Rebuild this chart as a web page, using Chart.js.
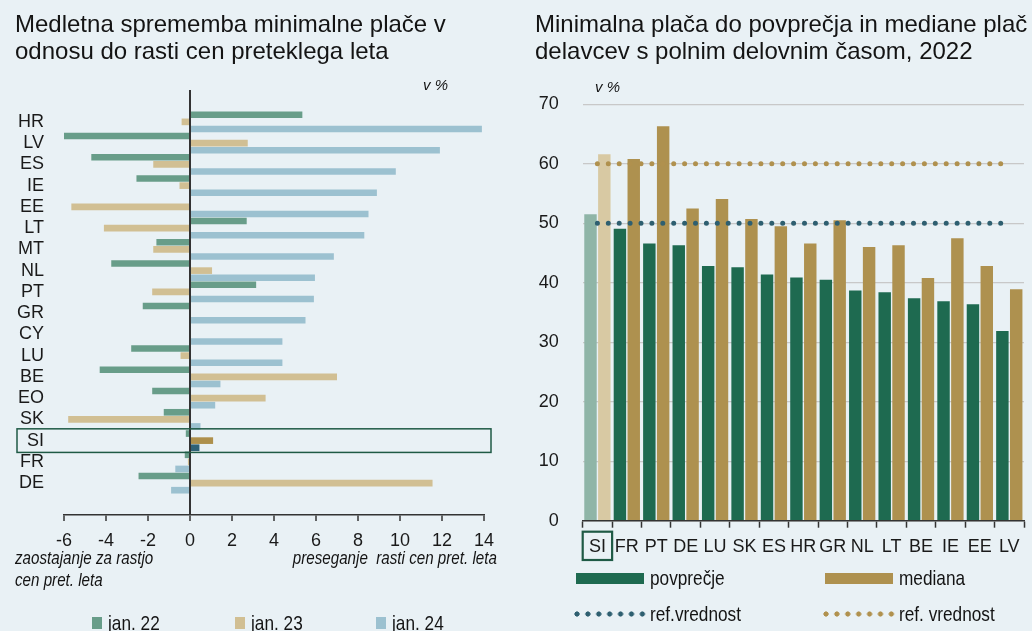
<!DOCTYPE html>
<html><head><meta charset="utf-8">
<script src="https://cdn.jsdelivr.net/npm/chart.js@4"></script>
<style>
html,body{margin:0;padding:0;background:#e9f1f5;}
body{width:1032px;height:631px;position:relative;overflow:hidden;font-family:"Liberation Sans",Arial,sans-serif;color:#141414;}
canvas{position:absolute;top:0;}
#cl{left:0;} #cr{left:516px;}
.abs{position:absolute;white-space:nowrap;}
.title{font-size:24px;line-height:26.8px;}
.narrow{font-size:21px;line-height:24px;transform:scaleX(0.82);transform-origin:0 50%;}
.ital{font-style:italic;font-size:18.5px;line-height:22px;transform:scaleX(0.82);transform-origin:0 50%;}
.itr{font-style:italic;font-size:18.5px;line-height:22px;transform:scaleX(0.82);transform-origin:100% 50%;}
.vp{font-style:italic;font-size:15px;line-height:18px;}
.sw{position:absolute;}
.dots{position:absolute;height:6px;background-size:10.9px 6px;background-repeat:repeat-x;}
</style></head>
<body>
<canvas id="cl" width="516" height="631" style="width:516px;height:631px"></canvas>
<canvas id="cr" width="516" height="631" style="width:516px;height:631px"></canvas>

<div class="abs title" style="left:15px;top:11px">Medletna sprememba minimalne plače v<br>odnosu do rasti cen preteklega leta</div>
<div class="abs title" style="left:535px;top:11px">Minimalna plača do povprečja in mediane plač<br>delavcev s polnim delovnim časom, 2022</div>
<div class="abs vp" style="left:423px;top:76px">v %</div>
<div class="abs vp" style="left:595px;top:78px">v %</div>

<div class="abs ital" style="left:15px;top:547px">zaostajanje za rastjo</div>
<div class="abs ital" style="left:15px;top:569px">cen pret. leta</div>
<div class="abs itr" style="right:535px;top:547px">preseganje&nbsp; rasti cen pret. leta</div>

<div id="legL"></div>
<div id="legR"></div>

<script>
// ---------- data: left chart ----------
const leftCategories = ['HR','LV','ES','IE','EE','LT','MT','NL','PT','GR','CY','LU','BE','EO','SK','SI','FR','DE'];
const leftSeriesNames = ['jan. 22','jan. 23','jan. 24'];
const jan22 = [5.35,-6.0,-4.7,-2.55,0,2.7,-1.6,-3.75,3.15,-2.25,0,-2.8,-4.3,-1.8,-1.25,-0.2,-0.25,-2.45];
const jan23 = [-0.4,2.75,-1.75,-0.5,-5.65,-4.1,-1.75,1.05,-1.8,0,0,-0.45,7.0,3.6,-5.8,1.1,-0.1,11.55];
const jan24 = [13.9,11.9,9.8,8.9,8.5,8.3,6.85,5.95,5.9,5.5,4.4,4.4,1.45,1.2,0.5,0.45,-0.7,-0.9];
const leftTicks = [-6,-4,-2,0,2,4,6,8,10,12,14];

// ---------- data: right chart ----------
const rightCategories = ['SI','FR','PT','DE','LU','SK','ES','HR','GR','NL','LT','BE','IE','EE','LV'];
const rightSeriesNames = ['povprečje','mediana','ref.vrednost','ref. vrednost'];
const povprecje = [51.5,49.1,46.6,46.3,42.8,42.6,41.4,40.9,40.5,38.7,38.4,37.4,36.9,36.4,31.9];
const mediana   = [61.6,60.8,66.3,52.5,54.1,50.7,49.5,46.6,50.5,46.0,46.3,40.8,47.5,42.8,38.9];
const refPovprecje = [50,50,50,50,50,50,50,50,50,50,50,50,50,50,50];
const refMediana   = [60,60,60,60,60,60,60,60,60,60,60,60,60,60,60];
const rightTicks = [0,10,20,30,40,50,60,70];

const HL = 'SI';
const F = '"Liberation Sans", Arial, sans-serif';
const COL = {
  lGreen:'#689d89', lTan:'#d1bf93', lBlue:'#9cc1d0', lTanHL:'#ae904c', lBlueHL:'#2f6176',
  rGreen:'#1e6a50', rTan:'#ae914f', rGreenHL:'#8fb5a7', rTanHL:'#d8c9a3',
  refAvg:'#2e5f70', refMed:'#b0914e', box:'#1f5a45', axis:'#333333', text:'#1a1a1a', grid:'#c8c8c8'
};

const toPts = arr => arr.map((v,i)=>({x:v,y:i}));
const byCat = (cats, base, hl) => cats.map(c => c===HL ? hl : base);

// ---------- left chart ----------
const siBoxLeft = {
  id:'siBoxLeft',
  afterDraw(chart){
    const ys = chart.scales.y, ctx = chart.ctx;
    const y = ys.getPixelForValue(leftCategories.indexOf(HL));
    ctx.save(); ctx.strokeStyle = COL.box; ctx.lineWidth = 1.5;
    ctx.strokeRect(17, y-11.8, 474, 23.6); ctx.restore();
  }
};
new Chart(document.getElementById('cl'), {
  type:'bar',
  data:{datasets:[
    {label:leftSeriesNames[0], data:toPts(jan22), backgroundColor:byCat(leftCategories, COL.lGreen, COL.lGreen)},
    {label:leftSeriesNames[1], data:toPts(jan23), backgroundColor:byCat(leftCategories, COL.lTan, COL.lTanHL)},
    {label:leftSeriesNames[2], data:toPts(jan24), backgroundColor:byCat(leftCategories, COL.lBlue, COL.lBlueHL)}
  ]},
  options:{
    indexAxis:'y', responsive:false, animation:false,
    categoryPercentage:1, barPercentage:0.94,
    layout:{padding:{top:90,right:32,left:0,bottom:0}},
    plugins:{legend:{display:false}, tooltip:{enabled:false}},
    scales:{
      x:{type:'linear', min:-6, max:14,
        afterBuildTicks:s=>{s.ticks = leftTicks.map(v=>({value:v}));},
        afterFit:s=>{s.height = 116;},
        grid:{color:c=> (c.tick && c.tick.value===0) ? COL.axis : 'rgba(0,0,0,0)', lineWidth:2,
              drawTicks:true, tickColor:COL.axis, tickLength:6, tickWidth:1.5},
        border:{display:true, color:COL.axis, width:1.5},
        ticks:{font:{size:18,family:F}, color:COL.text, padding:9, maxRotation:0, autoSkip:false}
      },
      y:{type:'linear', reverse:true, offset:false, min:-1.5, max:18.5,
        afterBuildTicks:s=>{s.ticks = leftCategories.map((c,i)=>({value:i}));},
        afterFit:s=>{s.width = 64;},
        grid:{display:false, drawTicks:false},
        border:{display:false},
        ticks:{callback:v=>leftCategories[v], font:{size:18,family:F}, color:COL.text, padding:20, autoSkip:false}
      }
    }
  },
  plugins:[siBoxLeft]
});

// ---------- right chart ----------
const siBoxRight = {
  id:'siBoxRight',
  afterDraw(chart){
    const xs = chart.scales.x, ctx = chart.ctx;
    const px = xs.getPixelForValue(rightCategories.indexOf(HL));
    const w = xs.width / rightCategories.length;
    ctx.save(); ctx.strokeStyle = COL.box; ctx.lineWidth = 2.2;
    ctx.strokeRect(px - w/2, xs.top + 11, w, 28.3); ctx.restore();
  }
};
const dotted = {borderWidth:5, borderDash:[0,10.9], borderCapStyle:'round', pointRadius:0, fill:false, order:0, tension:0};
new Chart(document.getElementById('cr'), {
  data:{labels:rightCategories, datasets:[
    Object.assign({type:'line', label:rightSeriesNames[2], data:refPovprecje, borderColor:COL.refAvg}, dotted),
    Object.assign({type:'line', label:rightSeriesNames[3], data:refMediana, borderColor:COL.refMed}, dotted),
    {type:'bar', label:rightSeriesNames[0], data:povprecje, backgroundColor:byCat(rightCategories, COL.rGreen, COL.rGreenHL), order:1},
    {type:'bar', label:rightSeriesNames[1], data:mediana, backgroundColor:byCat(rightCategories, COL.rTan, COL.rTanHL), order:1}
  ]},
  options:{
    responsive:false, animation:false,
    categoryPercentage:0.94, barPercentage:0.9,
    layout:{padding:{top:104.3,right:8,left:0,bottom:0}},
    plugins:{legend:{display:false}, tooltip:{enabled:false}},
    scales:{
      x:{type:'category', offset:true,
        afterFit:s=>{s.height = 110.3;},
        grid:{offset:true, drawOnChartArea:false, drawTicks:true, tickLength:7, tickColor:COL.axis, tickWidth:1.5},
        border:{display:true, color:COL.axis, width:1.5},
        ticks:{font:{size:18,family:F}, color:COL.text, padding:9, maxRotation:0, autoSkip:false}
      },
      y:{type:'linear', min:0, max:70,
        afterBuildTicks:s=>{s.ticks = rightTicks.map(v=>({value:v}));},
        afterFit:s=>{s.width = 66.7;},
        grid:{color:COL.grid, lineWidth:1.3, drawTicks:false},
        border:{display:false},
        ticks:{font:{size:18,family:F}, color:COL.text, padding:24}
      }
    }
  },
  plugins:[siBoxRight]
});

// ---------- HTML legends ----------
(function(){
  const L = document.getElementById('legL');
  const lx = [92,235,376], lc = [COL.lGreen, COL.lTan, COL.lBlue];
  leftSeriesNames.forEach((n,i)=>{
    L.insertAdjacentHTML('beforeend',
      `<div class="sw" style="left:${lx[i]}px;top:617px;width:10px;height:12px;background:${lc[i]}"></div>`+
      `<div class="abs narrow" style="left:${lx[i]+16}px;top:611px">${n}</div>`);
  });
  const R = document.getElementById('legR');
  const rx = [576,825];
  const barCol = [COL.rGreen, COL.rTan], dotCol = [COL.refAvg, COL.refMed];
  [0,1].forEach(i=>{
    R.insertAdjacentHTML('beforeend',
      `<div class="sw" style="left:${rx[i]}px;top:573px;width:68px;height:11px;background:${barCol[i]}"></div>`+
      `<div class="abs narrow" style="left:${rx[i]+74}px;top:566px">${rightSeriesNames[i]}</div>`+
      `<div class="dots" style="left:${rx[i]-2}px;top:611px;width:74px;background-image:radial-gradient(circle at 3px 3px, ${dotCol[i]} 2.3px, rgba(0,0,0,0) 2.9px)"></div>`+
      `<div class="abs narrow" style="left:${rx[i]+74}px;top:602px">${rightSeriesNames[i+2]}</div>`);
  });
})();
</script>
</body></html>
